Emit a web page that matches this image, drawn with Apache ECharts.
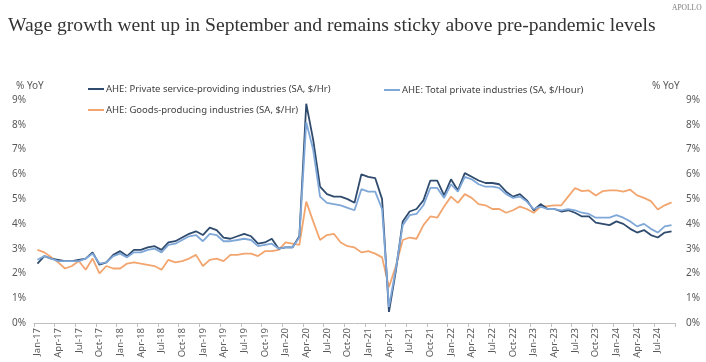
<!DOCTYPE html>
<html>
<head>
<meta charset="utf-8">
<script src="https://cdn.jsdelivr.net/npm/echarts@6/dist/echarts.min.js"></script>
<style>
html,body{margin:0;padding:0;background:#fff;}
#c{width:706px;height:362px;}
</style>
</head>
<body>
<div id="c"></div>
<script>
// ---- data ----
var monthNames = ['Jan','Feb','Mar','Apr','May','Jun','Jul','Aug','Sep','Oct','Nov','Dec'];
var years = ['17','18','19','20','21','22','23','24'];
var lastMonthIndex2024 = 8; // Sep-24

var seriesNames = [
  'AHE: Private service-providing industries (SA, $/Hr)',
  'AHE: Total private industries (SA, $/Hour)',
  'AHE: Goods-producing industries (SA, $/Hr)'
];

var privateService = [
  2.4,2.7,2.6,2.55,2.5,2.5,2.55,2.6,2.85,2.35,2.45,2.75,
  2.9,2.7,2.95,2.95,3.05,3.1,2.95,3.25,3.3,3.45,3.6,3.7,
  3.55,3.85,3.75,3.45,3.4,3.5,3.6,3.5,3.2,3.25,3.4,3.0,
  3.05,3.05,3.5,8.85,7.4,5.5,5.2,5.1,5.1,5.0,4.85,6.0,
  5.9,5.85,5.0,0.45,2.1,4.1,4.5,4.6,4.95,5.75,5.75,5.15,
  5.8,5.35,6.05,5.9,5.75,5.65,5.65,5.6,5.3,5.1,5.2,4.95,
  4.55,4.8,4.6,4.6,4.5,4.55,4.45,4.3,4.3,4.05,4.0,3.95,
  4.1,4.0,3.8,3.65,3.75,3.55,3.45,3.65,3.7
];
var totalPrivate = [
  2.55,2.7,2.6,2.5,2.5,2.5,2.5,2.6,2.8,2.4,2.45,2.7,
  2.8,2.65,2.85,2.85,2.95,3.0,2.85,3.15,3.2,3.35,3.5,3.55,
  3.3,3.6,3.55,3.3,3.3,3.35,3.4,3.35,3.1,3.15,3.2,3.0,
  3.05,3.05,3.45,8.1,7.0,5.1,4.85,4.8,4.75,4.65,4.55,5.4,
  5.3,5.3,4.6,0.65,2.2,3.95,4.35,4.4,4.75,5.45,5.45,5.05,
  5.6,5.3,5.9,5.8,5.6,5.5,5.5,5.45,5.2,5.05,5.1,4.9,
  4.6,4.7,4.6,4.6,4.55,4.6,4.55,4.45,4.4,4.25,4.25,4.25,
  4.35,4.25,4.1,3.9,4.0,3.8,3.65,3.9,3.95
];
var goodsProducing = [
  2.95,2.85,2.65,2.45,2.2,2.3,2.5,2.15,2.6,2.0,2.3,2.2,
  2.2,2.4,2.45,2.4,2.35,2.3,2.15,2.55,2.45,2.5,2.6,2.75,
  2.3,2.55,2.6,2.5,2.75,2.75,2.8,2.8,2.7,2.9,2.9,2.95,
  3.25,3.2,3.15,4.9,4.1,3.35,3.55,3.6,3.25,3.1,3.05,2.85,
  2.9,2.8,2.65,1.45,2.3,3.35,3.45,3.4,3.95,4.3,4.25,4.7,
  5.1,4.85,5.2,5.05,4.8,4.75,4.6,4.6,4.45,4.55,4.7,4.6,
  4.45,4.7,4.72,4.75,4.75,5.1,5.45,5.32,5.35,5.15,5.32,5.35,
  5.35,5.3,5.38,5.15,5.05,4.92,4.58,4.75,4.87
];

// categories Jan-17 .. Sep-24
var categories = [];
years.forEach(function (y, yi) {
  monthNames.forEach(function (m, mi) {
    if (yi === years.length - 1 && mi > lastMonthIndex2024) return;
    categories.push(m + '-' + y);
  });
});

var colors = ['#2f4b6e', '#7fa7d8', '#f2a56e'];
var sansFont = 'Noto Sans';
var labelColor = '#595959';
var legendText = {fontFamily: sansFont, fontSize: 9.5, color: '#404040', padding: [0,0,0,-3]};

var chart = echarts.init(document.getElementById('c'), null, {renderer: 'canvas'});
chart.setOption({
  animation: false,
  backgroundColor: '#ffffff',
  color: colors,
  grid: {left: 34, right: 31, top: 100, bottom: 39},
  legend: [
    {data: [seriesNames[0]], left: 88, top: 84, icon: 'rect', itemWidth: 16, itemHeight: 2, padding: 0, textStyle: legendText},
    {data: [seriesNames[1]], left: 384, top: 85, icon: 'rect', itemWidth: 16, itemHeight: 2, padding: 0, textStyle: legendText},
    {data: [seriesNames[2]], left: 88, top: 105, icon: 'rect', itemWidth: 16, itemHeight: 2, padding: 0, textStyle: legendText}
  ],
  xAxis: {
    type: 'category',
    data: categories,
    boundaryGap: true,
    axisLine: {show: true, lineStyle: {color: '#bfbfbf', width: 1}},
    axisTick: {show: true, interval: 2, length: 4, lineStyle: {color: '#bfbfbf'}},
    axisLabel: {interval: 2, rotate: 90, fontFamily: sansFont, fontSize: 9.5, color: labelColor, margin: 5},
    splitLine: {show: false}
  },
  yAxis: [
    {type: 'value', min: 0, max: 9, interval: 1, position: 'left',
     axisLine: {show: false}, axisTick: {show: false}, splitLine: {show: false},
     axisLabel: {formatter: '{value}%', fontFamily: sansFont, fontSize: 10, color: labelColor, margin: 8}},
    {type: 'value', min: 0, max: 9, interval: 1, position: 'right',
     axisLine: {show: false}, axisTick: {show: false}, splitLine: {show: false},
     axisLabel: {formatter: '{value}%', fontFamily: sansFont, fontSize: 10, color: labelColor, margin: 11}}
  ],
  series: [
    {name: seriesNames[0], type: 'line', data: privateService, showSymbol: false, symbol: 'none',
     lineStyle: {width: 1.8, color: colors[0]}, itemStyle: {color: colors[0]}, z: 3},
    {name: seriesNames[1], type: 'line', data: totalPrivate, showSymbol: false, symbol: 'none',
     lineStyle: {width: 1.8, color: colors[1]}, itemStyle: {color: colors[1]}, z: 4},
    {name: seriesNames[2], type: 'line', data: goodsProducing, showSymbol: false, symbol: 'none',
     lineStyle: {width: 1.8, color: colors[2]}, itemStyle: {color: colors[2]}, z: 2}
  ],
  graphic: [
    {type: 'text', left: 8, top: 16, style: {text: 'Wage growth went up in September and remains sticky above pre-pandemic levels',
      font: '19.6px "Liberation Serif"', fill: '#333333'}},
    {type: 'text', left: 672, top: 4, style: {text: 'APOLLO', font: '7.5px "Liberation Serif"', fill: '#7a7a7a'}},
    {type: 'text', left: 16, top: 81, style: {text: '% YoY', font: '10px "Noto Sans"', fill: labelColor}},
    {type: 'text', left: 652, top: 81, style: {text: '% YoY', font: '10px "Noto Sans"', fill: labelColor}}
  ]
});
</script>
</body>
</html>
